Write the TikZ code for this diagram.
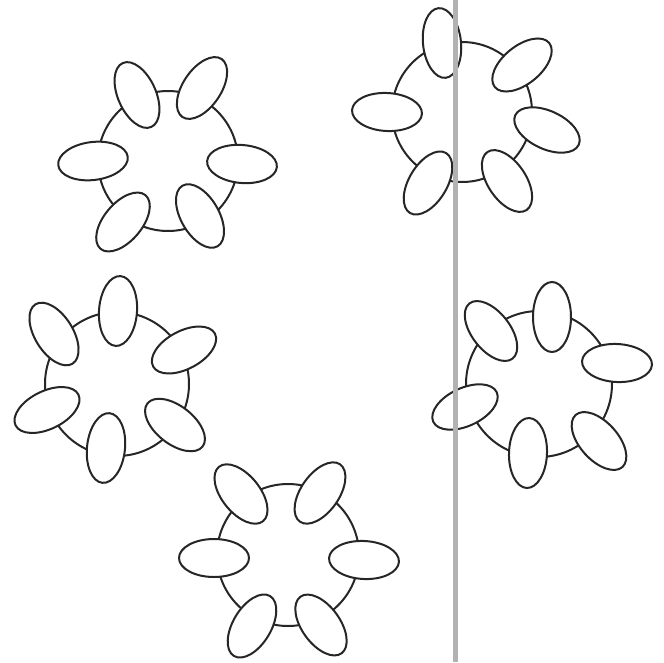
\documentclass[tikz,border=0pt]{standalone}
\usepackage{tikz}
\tikzset{
  tbl/.style={line width=2pt,draw=black!85},
  chair/.style={line width=2pt,draw=black!85,fill=white},
  gutter/.style={line width=5pt,draw=black!30}
}
\newcommand{\chair}[3]{\draw[chair,rotate around={#3:(#1,#2)}] (#1,#2) ellipse (35pt and 19pt);}
\begin{document}
\begin{tikzpicture}[x=1pt,y=-1pt]
  \useasboundingbox (0,0) rectangle (664,662);
  % tables
  \foreach \x/\y/\r in {168/161/70,462/112/70,117/384/72,539/384/73,288/555/71}{
    \draw[tbl] (\x,\y) circle (\r pt);}

  % chairs round each table
  \foreach \x/\y/\a in {137/95/114,202/88/56,93/161/7,242/164/-5,123/222/50,200/216/120}{
    \chair{\x}{\y}{\a}}
  \foreach \x/\y/\a in {442/43/96,522/65/39,387/112/-3,547/130/-25,428/183/59,507/181/124}{
    \chair{\x}{\y}{\a}}
  \foreach \x/\y/\a in {118/311/86,54/334/122,184/350/28,47/410/26,175/425/-38,106/448/84}{
    \chair{\x}{\y}{\a}}
  \foreach \x/\y/\a in {552/317/90,491/331/128,617/363/-3,465/407/25,528/453/88,599/441/132}{
    \chair{\x}{\y}{\a}}
  \foreach \x/\y/\a in {241/494/129,320/493/55,214/558/0,364/560/-3,252/626/59,321/625/126}{
    \chair{\x}{\y}{\a}}

  \draw[gutter] (455,0) -- (455,662);
\end{tikzpicture}
\end{document}
